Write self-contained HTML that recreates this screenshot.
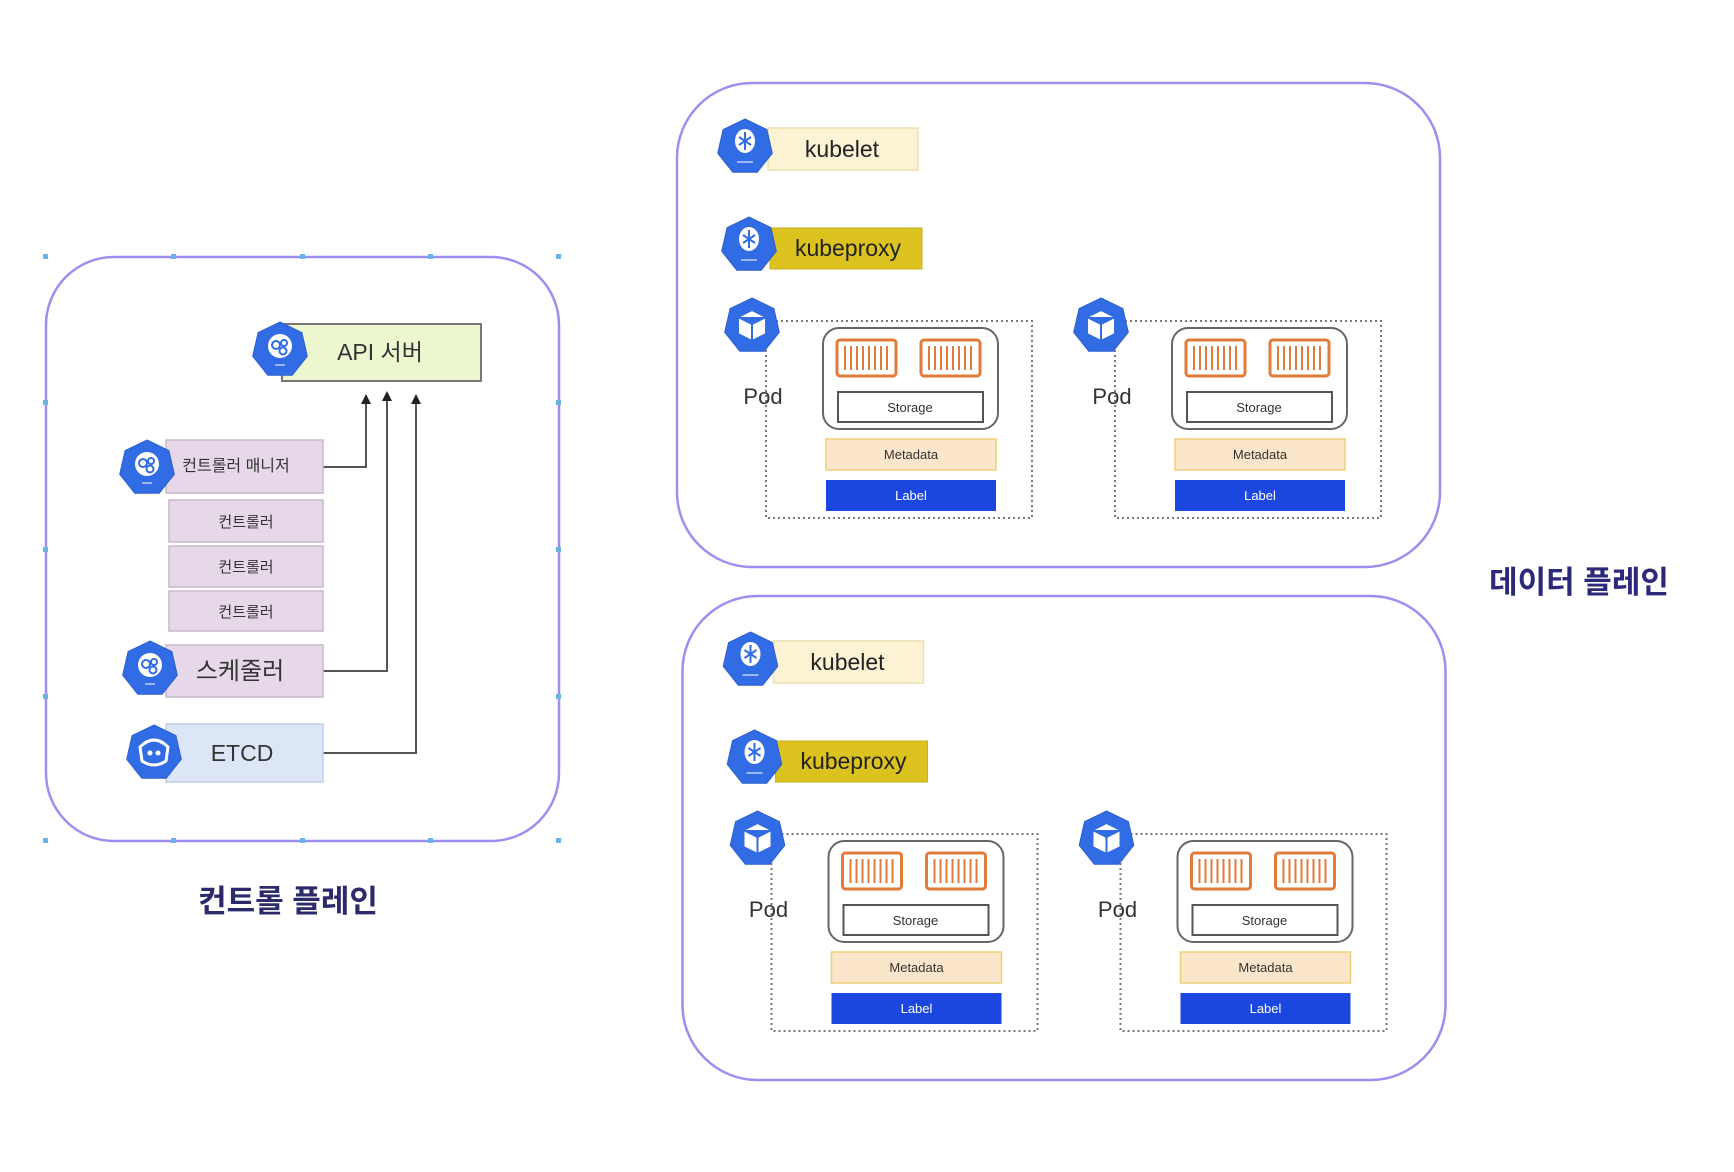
<!DOCTYPE html>
<html><head><meta charset="utf-8"><style>
html,body{margin:0;padding:0;background:#fff;}
svg{display:block}
text{font-family:"Liberation Sans","Noto Sans CJK KR",sans-serif;}
</style></head><body>
<svg width="1734" height="1172" viewBox="0 0 1734 1172" xmlns="http://www.w3.org/2000/svg">
<defs>
<g id="hx"><polygon points="0,-28 21.9,-17.4 27.3,6.2 12.2,25.2 -12.2,25.2 -27.3,6.2 -21.9,-17.4" fill="#326ce5" stroke="#2a5fd0" stroke-width="1"/></g>
<g id="comp"><use href="#hx"/><circle cx="0" cy="-4" r="12" fill="#fff"/><circle cx="-4" cy="-5" r="4" fill="none" stroke="#326ce5" stroke-width="2"/><circle cx="4" cy="-7" r="3" fill="none" stroke="#326ce5" stroke-width="2"/><circle cx="3" cy="1" r="3.5" fill="none" stroke="#326ce5" stroke-width="2"/><rect x="-5" y="14" width="10" height="2" fill="#9bb8f0"/></g>
<g id="kub"><use href="#hx"/><ellipse cx="0" cy="-6" rx="10" ry="12" fill="#fff"/><path d="M0,-15 V3 M-6,-10 L6,-2 M6,-10 L-6,-2" stroke="#326ce5" stroke-width="2" fill="none"/><rect x="-8" y="14" width="16" height="2" fill="#9bb8f0"/></g>
<g id="etcd"><use href="#hx"/><path d="M-14,-6 Q0,-20 14,-6 L12,8 Q0,16 -12,8 Z" fill="none" stroke="#fff" stroke-width="3"/><circle cx="-4" cy="0" r="2.5" fill="#fff"/><circle cx="4" cy="0" r="2.5" fill="#fff"/></g>
<g id="pod"><use href="#hx"/><path d="M0,-16 L14,-9 L14,8 L0,15 L-14,8 L-14,-9 Z M-14,-9 L0,-2 L14,-9 M0,-2 V15" fill="#fff" stroke="#326ce5" stroke-width="2" stroke-linejoin="round"/></g>
<g id="cont"><rect x="0" y="0" width="59" height="36" rx="3" fill="#fff" stroke="#e07b39" stroke-width="3"/>
<path d="M8,6V30M14,6V30M20,6V30M26,6V30M32,6V30M38,6V30M44,6V30M50,6V30" stroke="#e07b39" stroke-width="2"/></g>
<g id="podg">
<rect x="766" y="321" width="266" height="197" fill="none" stroke="#777" stroke-width="2" stroke-dasharray="2,3"/>
<rect x="823" y="328" width="175" height="101" rx="16" fill="#fff" stroke="#666" stroke-width="2"/>
<use href="#cont" x="837" y="340"/><use href="#cont" x="921" y="340"/>
<rect x="838" y="392" width="145" height="30" fill="#fff" stroke="#555" stroke-width="2"/>
<text x="910" y="412" font-size="13" text-anchor="middle" fill="#333">Storage</text>
<rect x="826" y="439" width="170" height="31" fill="#fbe6cb" stroke="#efcf7a" stroke-width="1.5"/>
<text x="911" y="459" font-size="13" text-anchor="middle" fill="#333">Metadata</text>
<rect x="826" y="480" width="170" height="31" fill="#1c46e0"/>
<text x="911" y="500" font-size="13" text-anchor="middle" fill="#fff">Label</text>
<use href="#pod" x="752" y="326"/>
<text x="763" y="404" font-size="22" text-anchor="middle" fill="#333">Pod</text>
</g>
<g id="node">
<rect x="677" y="83" width="763" height="484" rx="75" fill="#fff" stroke="#9c8ff0" stroke-width="2.5"/>
<rect x="768" y="128" width="150" height="42" fill="#fcf2d4" stroke="#eee0b0" stroke-width="1.5"/>
<text x="842" y="157" font-size="23" text-anchor="middle" fill="#222">kubelet</text>
<use href="#kub" x="745" y="147"/>
<rect x="770" y="228" width="152" height="41" fill="#dcc21f" stroke="#c8b020" stroke-width="1"/>
<text x="848" y="256" font-size="23" text-anchor="middle" fill="#222">kubeproxy</text>
<use href="#kub" x="749" y="245"/>
<use href="#podg"/>
<use href="#podg" x="349"/>
</g>
</defs>

<!-- control plane -->
<rect x="46" y="257" width="513" height="584" rx="68" fill="#fff" stroke="#9c8ff0" stroke-width="2.5"/>
<g fill="#6ab4e0">
<rect x="43" y="254" width="5" height="5"/><rect x="171" y="254" width="5" height="5"/><rect x="300" y="254" width="5" height="5"/><rect x="428" y="254" width="5" height="5"/><rect x="556" y="254" width="5" height="5"/>
<rect x="43" y="838" width="5" height="5"/><rect x="171" y="838" width="5" height="5"/><rect x="300" y="838" width="5" height="5"/><rect x="428" y="838" width="5" height="5"/><rect x="556" y="838" width="5" height="5"/>
<rect x="43" y="400" width="5" height="5"/><rect x="43" y="547" width="5" height="5"/><rect x="43" y="694" width="5" height="5"/>
<rect x="556" y="400" width="5" height="5"/><rect x="556" y="547" width="5" height="5"/><rect x="556" y="694" width="5" height="5"/>
</g>
<rect x="282" y="324" width="199" height="57" fill="#ecf7cf" stroke="#777" stroke-width="2"/>
<text x="380" y="360" font-size="23" text-anchor="middle" fill="#333">API 서버</text>
<use href="#comp" x="280" y="350"/>

<path d="M323,467 H366 V402" fill="none" stroke="#555" stroke-width="2"/>
<path d="M323,671 H387 V399" fill="none" stroke="#555" stroke-width="2"/>
<path d="M323,753 H416 V402" fill="none" stroke="#555" stroke-width="2"/>
<polygon points="366,394 361,404 371,404" fill="#222"/>
<polygon points="387,391 382,401 392,401" fill="#222"/>
<polygon points="416,394 411,404 421,404" fill="#222"/>

<rect x="166" y="440" width="157" height="53" fill="#e6d8e8" stroke="#c9b9cc" stroke-width="1.5"/>
<text x="236" y="471" font-size="16" text-anchor="middle" fill="#333">컨트롤러 매니저</text>
<use href="#comp" x="147" y="468"/>
<rect x="169" y="500" width="154" height="42" fill="#e6d8e8" stroke="#c9b9cc" stroke-width="1.5"/>
<text x="246" y="527" font-size="15" text-anchor="middle" fill="#333">컨트롤러</text>
<rect x="169" y="546" width="154" height="41" fill="#e6d8e8" stroke="#c9b9cc" stroke-width="1.5"/>
<text x="246" y="572" font-size="15" text-anchor="middle" fill="#333">컨트롤러</text>
<rect x="169" y="591" width="154" height="40" fill="#e6d8e8" stroke="#c9b9cc" stroke-width="1.5"/>
<text x="246" y="617" font-size="15" text-anchor="middle" fill="#333">컨트롤러</text>
<rect x="166" y="645" width="157" height="52" fill="#e6d8e8" stroke="#c9b9cc" stroke-width="1.5"/>
<text x="240" y="679" font-size="24" text-anchor="middle" fill="#333">스케줄러</text>
<use href="#comp" x="150" y="669"/>
<rect x="166" y="724" width="157" height="58" fill="#dde6f7" stroke="#c3cfe6" stroke-width="1.5"/>
<text x="242" y="761" font-size="23" text-anchor="middle" fill="#333">ETCD</text>
<use href="#etcd" x="154" y="753"/>
<text x="288" y="912" font-size="31" font-weight="bold" text-anchor="middle" fill="#2b2a6a">컨트롤 플레인</text>

<!-- data plane -->
<use href="#node"/>
<use href="#node" x="5.5" y="513"/>
<text x="1579" y="593" font-size="31" font-weight="bold" text-anchor="middle" fill="#2b2a7a">데이터 플레인</text>
</svg>
</body></html>
